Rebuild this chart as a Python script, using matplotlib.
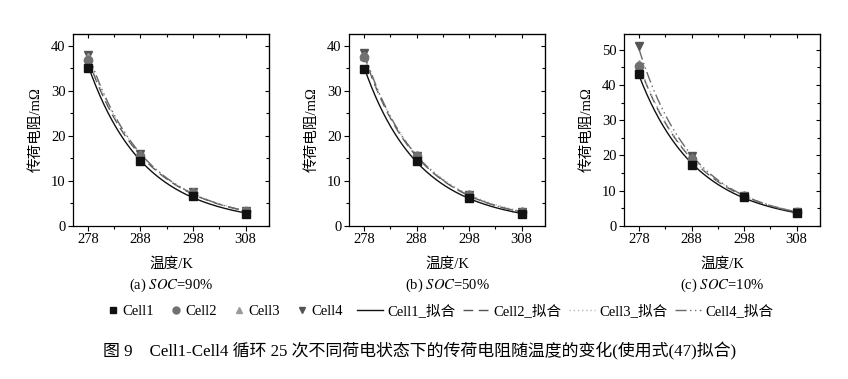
import numpy as np
import matplotlib
matplotlib.use('Agg')
import matplotlib.pyplot as plt
from matplotlib.lines import Line2D

plt.rcParams['font.family'] = ['Liberation Serif', 'Noto Sans CJK SC']
plt.rcParams['mathtext.fontset'] = 'stix'
plt.rcParams['axes.unicode_minus'] = False

# 温度
temps = np.array([278, 288, 298, 308])
cells = ['Cell1', 'Cell2', 'Cell3', 'Cell4']
panel_titles = ['(a) $SOC$=90%', '(b) $SOC$=50%', '(c) $SOC$=10%']

# 传荷电阻 (mΩ), 每个 SOC 下 Cell1..Cell4
soc90 = [[35.0, 14.4, 6.7, 2.7],
         [36.8, 15.5, 7.3, 3.2],
         [37.4, 15.8, 7.5, 3.3],
         [38.0, 16.0, 7.4, 3.2]]
soc50 = [[34.8, 14.4, 6.1, 2.7],
         [37.5, 15.5, 6.8, 3.0],
         [37.8, 15.8, 7.0, 3.2],
         [38.4, 15.5, 6.9, 3.0]]
soc10 = [[43.0, 17.3, 8.2, 3.6],
         [45.5, 19.0, 8.5, 3.9],
         [46.0, 19.2, 8.7, 4.0],
         [51.0, 19.7, 8.5, 3.9]]
all_data = [soc90, soc50, soc10]
ylims = [(0, 42.6), (0, 42.6), (0, 54.5)]

markers = ['s', 'o', '^', 'v']
mcolors = ['#111111', '#707070', '#9a9a9a', '#555555']
fit_colors = ['#111111', '#555555', '#b5b5b5', '#6a6a6a']
fit_dashes = [(None), (7, 4), (1, 2), (8, 2.5, 1, 2.5, 1, 2.5)]

fig = plt.figure(figsize=(8.48, 3.79), dpi=100)
lefts = [0.0864, 0.4119, 0.7362]

for k in range(3):
    ax = fig.add_axes([lefts[k], 0.4045, 0.2310, 0.5058])
    data = all_data[k]
    xx = np.linspace(278, 308, 200)
    for i in range(4):
        vals = np.array(data[i])
        # 拟合 ln R = a + b/T
        b, a = np.polyfit(1.0 / temps, np.log(vals), 1)
        yy = np.exp(a + b / xx)
        line, = ax.plot(xx, yy, color=fit_colors[i], lw=1.0, zorder=2)
        if fit_dashes[i] is not None:
            line.set_dashes(fit_dashes[i])
    for i in range(4):
        ax.plot(temps, data[i], linestyle='none', marker=markers[i], ms=6,
                color=mcolors[i], zorder=3 + (3 - i))
    ax.set_xlim(275.2, 312.5)
    ax.set_ylim(*ylims[k])
    ax.set_xticks(temps)
    ax.set_xticks([283, 293, 303], minor=True)
    if k < 2:
        ax.set_yticks([0, 10, 20, 30, 40])
        ax.set_yticks([5, 15, 25, 35], minor=True)
    else:
        ax.set_yticks([0, 10, 20, 30, 40, 50])
        ax.set_yticks([5, 15, 25, 35, 45], minor=True)
    ax.tick_params(which='major', direction='out', length=3.5, width=0.8, labelsize=10.5, pad=2)
    ax.tick_params(which='minor', direction='out', length=2, width=0.8)
    for sp in ax.spines.values():
        sp.set_linewidth(0.9)
    top = ax.secondary_xaxis('top')
    top.set_xticks(temps)
    top.set_xticks([283, 293, 303], minor=True)
    top.tick_params(which='both', direction='in', labeltop=False, length=3, width=0.8)
    top.tick_params(which='minor', length=2)
    right = ax.secondary_yaxis('right')
    right.set_yticks(ax.get_yticks())
    right.set_yticks(ax.get_yticks(minor=True), minor=True)
    right.tick_params(which='both', direction='in', labelright=False, length=3, width=0.8)
    right.tick_params(which='minor', length=2)
    ax.set_xlabel('温度/K', fontsize=10.5, labelpad=8)
    ax.set_ylabel('传荷电阻/mΩ', fontsize=10.5, labelpad=6)
    ax.text(0.5, -0.31, panel_titles[k], transform=ax.transAxes, ha='center', va='center', fontsize=10.5)

# 图例
handles = []
for i in range(4):
    handles.append(Line2D([], [], linestyle='none', marker=markers[i], ms=5, color=mcolors[i]))
fig.legend(handles, cells, loc='center left', bbox_to_anchor=(0.113, 0.178), ncol=4, frameon=False,
           fontsize=10.5, handlelength=0.6, handletextpad=0.35, columnspacing=1.2)
line_handles = []
for i in range(4):
    h = Line2D([], [], color=fit_colors[i], lw=1.0)
    if fit_dashes[i] is not None:
        h.set_dashes(fit_dashes[i])
    line_handles.append(h)
fit_labels = [c + '_拟合' for c in cells]
fig.legend(line_handles, fit_labels, loc='center left', bbox_to_anchor=(0.405, 0.178), ncol=4, frameon=False,
           fontsize=10.5, handlelength=1.8, handletextpad=0.3, columnspacing=0.5)

fig.text(0.122, 0.072, '图 9　Cell1-Cell4 循环 25 次不同荷电状态下的传荷电阻随温度的变化(使用式(47)拟合)',
         fontsize=12.2, ha='left', va='center')

fig.savefig('out.png', dpi=100)
